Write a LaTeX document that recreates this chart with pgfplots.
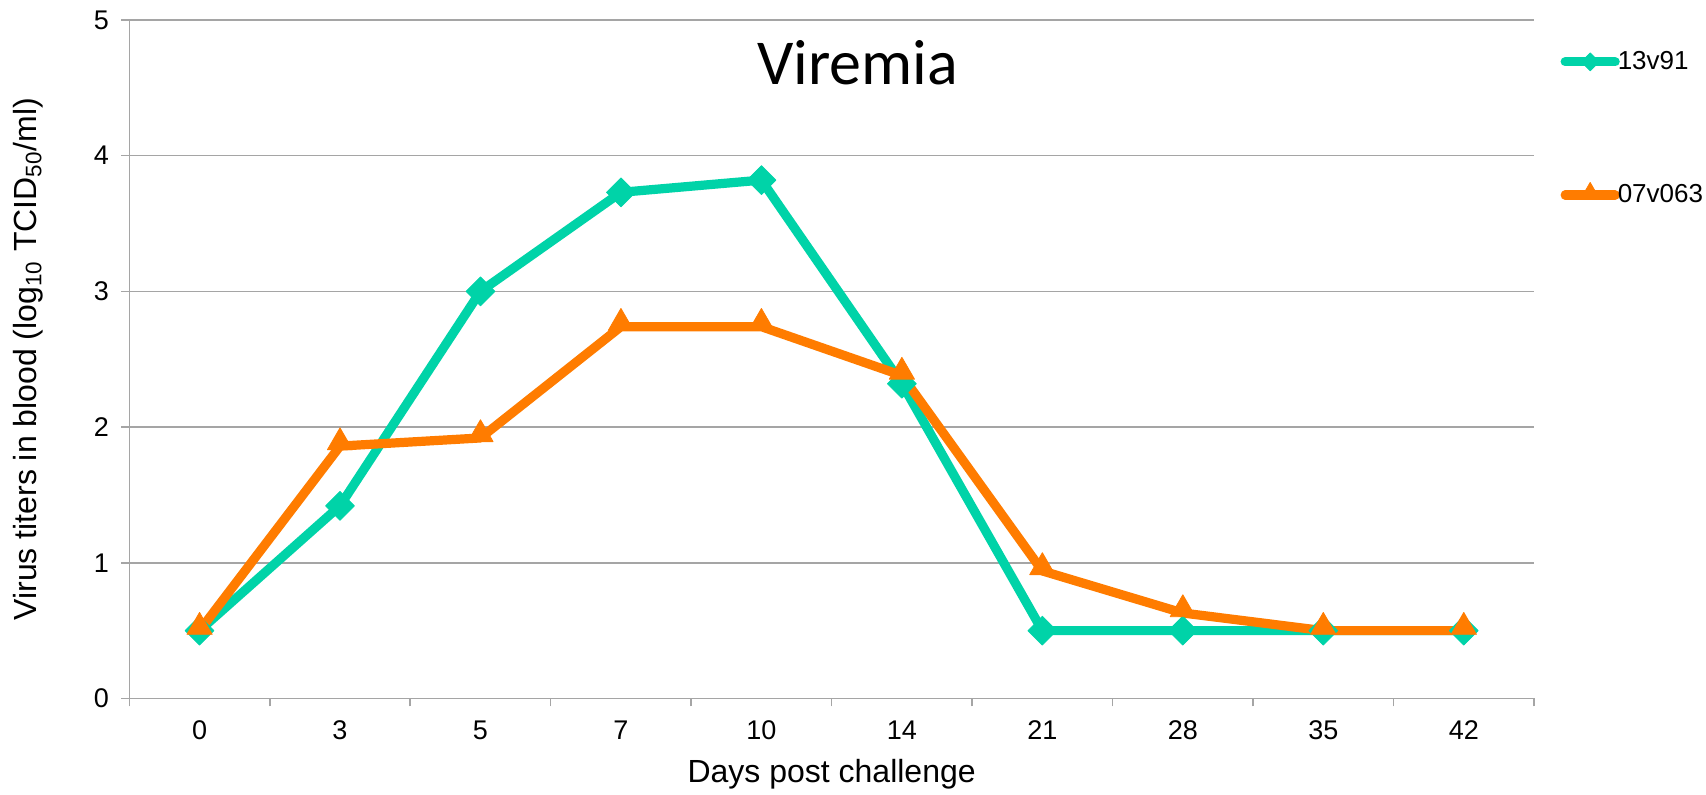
\documentclass[border=0pt]{standalone}
\usepackage{pgfplots}
\pgfplotsset{compat=1.18}
\usepackage{fontspec}
\setmainfont{Liberation Sans}
\newfontfamily\titlefont{Carlito}
\definecolor{teal13}{RGB}{0,211,168}
\definecolor{orange07}{RGB}{255,124,0}
\definecolor{gridgray}{RGB}{165,165,165}
\begin{document}
\begin{tikzpicture}
\path[use as bounding box] (-64.65pt,-48.25pt) rectangle (788.35pt,349.25pt);
\begin{axis}[
  at={(0pt,0pt)}, anchor=south west,
  scale only axis, width=702.35pt, height=339.25pt,
  xmin=-0.5, xmax=9.5, ymin=0, ymax=5,
  xtick={0,...,9},
  xticklabels={0,3,5,7,10,14,21,28,35,42},
  major x tick style={draw=none},
  minor xtick={-0.5,0.5,...,9.5},
  ytick={0,...,5},
  tick align=outside, major tick length=4pt, minor tick length=4pt,
  tick style={gridgray, line width=0.75pt},
  axis x line*=bottom, axis y line*=left,
  axis line style={gridgray, line width=0.75pt, -},
  ymajorgrids, major grid style={gridgray, line width=0.75pt},
  tick label style={font=\fontsize{13.5}{16}\selectfont, text=black},
  /pgf/number format/assume math mode=true,
  xticklabel style={inner sep=0pt, anchor=north, yshift=-7pt},
  yticklabel style={inner sep=0pt, anchor=east, xshift=-6pt},
  xlabel={Days post challenge},
  ylabel={Virus titers in blood (log\textsubscript{10} TCID\textsubscript{50}/ml)},
  label style={font=\fontsize{16}{19}\selectfont},
  xlabel style={at={(axis description cs:0.5,-0.1241)}, anchor=base},
  ylabel style={at={(axis description cs:-0.0721,0.5)}, anchor=center},
  legend style={at={(axis description cs:1.0189,0.8401)}, anchor=west,
    draw=none, fill=none, inner sep=0pt, outer sep=0pt,
    row sep=55pt, column sep=-1pt,
    nodes={inner sep=0pt, font=\fontsize{13}{16}\selectfont}},
  legend cell align=left,
  legend image code/.code={%
    \draw[#1, line cap=round, mark repeat=2, mark phase=2, every mark/.append style={scale=0.62}]
      plot coordinates {(0pt,0pt) (12.5pt,0pt) (25pt,0pt)};},
  clip=false,
]
\addplot[teal13, line width=4.6pt, line join=round, mark=square*,
  mark size=5.1pt, mark options={solid, rotate=45, line width=0.4pt, fill=teal13}]
  coordinates {(0,0.5) (1,1.42) (2,3.0) (3,3.73) (4,3.82) (5,2.32) (6,0.5) (7,0.5) (8,0.5) (9,0.5)};
\addlegendentry{13v91}
\addplot[orange07, line width=4.6pt, line join=round, mark=triangle*,
  mark size=7.3pt, mark options={solid, yshift=1.8pt, line width=0.4pt, fill=orange07}]
  coordinates {(0,0.5) (1,1.86) (2,1.92) (3,2.74) (4,2.74) (5,2.38) (6,0.94) (7,0.63) (8,0.5) (9,0.5)};
\addlegendentry{07v063}
\node[anchor=base, font=\titlefont\fontsize{32}{38}\selectfont] at (axis description cs:0.5184,0.9052) {Viremia};
\end{axis}
\end{tikzpicture}
\end{document}
